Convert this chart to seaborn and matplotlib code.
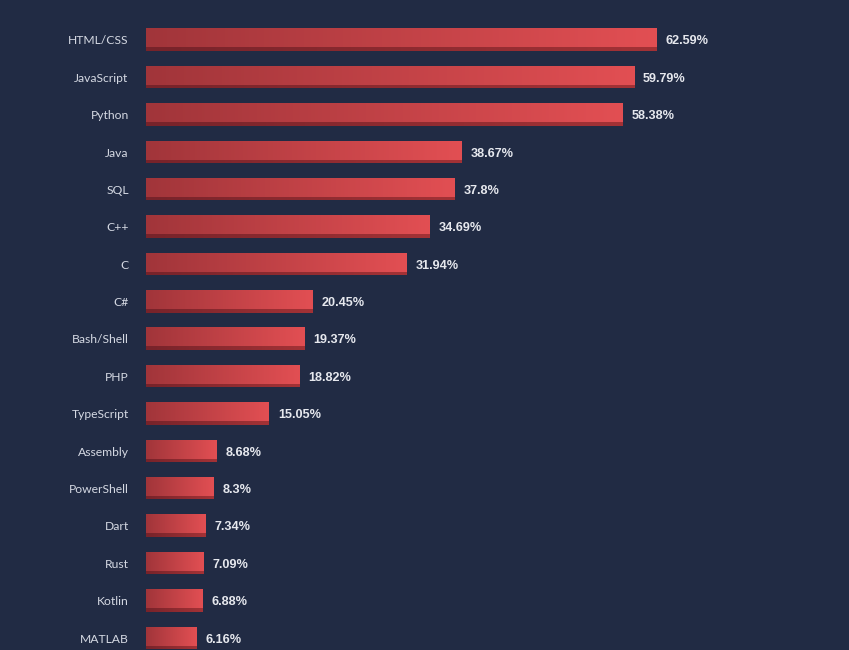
import numpy as np
import pandas as pd
import matplotlib
matplotlib.use("Agg")
import matplotlib.pyplot as plt
import seaborn as sns
from matplotlib.colors import LinearSegmentedColormap

languages = ["HTML/CSS", "JavaScript", "Python", "Java", "SQL", "C++", "C", "C#",
             "Bash/Shell", "PHP", "TypeScript", "Assembly", "PowerShell", "Dart",
             "Rust", "Kotlin", "MATLAB"]
shares = [62.59, 59.79, 58.38, 38.67, 37.8, 34.69, 31.94, 20.45,
          19.37, 18.82, 15.05, 8.68, 8.3, 7.34, 7.09, 6.88, 6.16]
value_labels = ["62.59%", "59.79%", "58.38%", "38.67%", "37.8%", "34.69%", "31.94%", "20.45%",
                "19.37%", "18.82%", "15.05%", "8.68%", "8.3%", "7.34%", "7.09%", "6.88%", "6.16%"]

BG = "#212b44"
df = pd.DataFrame({"language": languages, "share": shares})

sns.set_style("dark")
plt.rcParams["font.family"] = ["Lato", "DejaVu Sans"]

fig = plt.figure(figsize=(8.49, 6.5), dpi=100, facecolor=BG)
ax = fig.add_axes([146 / 849, 0, 1 - 146 / 849, 1])
ax.set_facecolor(BG)

# full bar = shadow colour, face drawn on top with a gradient
sns.barplot(data=df, x="share", y="language", orient="h", ax=ax,
            color="#8c2c30", width=22 / 37.4, saturation=1)

face_cmap = LinearSegmentedColormap.from_list("face", ["#a1353a", "#e24f53"])
shadow_cmap = LinearSegmentedColormap.from_list("shadow", ["#77232a", "#a33236"])
grad = np.linspace(0, 1, 256).reshape(1, -1)

for p in ax.patches:
    x0, y0 = p.get_x(), p.get_y()
    w, h = p.get_width(), p.get_height()
    p.set_facecolor("none")
    p.set_edgecolor("none")
    im = ax.imshow(grad, cmap=shadow_cmap, aspect="auto", interpolation="bilinear",
                   extent=(x0, x0 + w, y0 + h, y0), zorder=2)
    face_h = h * 18.5 / 22
    ax.imshow(grad, cmap=face_cmap, aspect="auto", interpolation="bilinear",
              extent=(x0, x0 + w, y0 + face_h, y0), zorder=3)

for i, (v, lab) in enumerate(zip(shares, value_labels)):
    ax.annotate(lab, xy=(v, i), xytext=(9, -1.5), textcoords="offset pixels",
                va="center", ha="left", fontsize=9.1, fontweight="bold",
                color="#e6e8ee", family=["Liberation Sans", "DejaVu Sans"])

px_per_unit = 511 / 62.59
ax.set_xlim(0, (849 - 146) / px_per_unit)
ax.set_ylim(16 + 12 / 37.4, -40 / 37.4)
ax.set_xlabel("")
ax.set_ylabel("")
ax.set_xticks([])
ax.tick_params(axis="y", length=0, pad=12.5, labelsize=8.7, labelcolor="#d5d9e3")
ax.grid(False)
for s in ax.spines.values():
    s.set_visible(False)

fig.savefig("out.png", dpi=100, facecolor=BG)
